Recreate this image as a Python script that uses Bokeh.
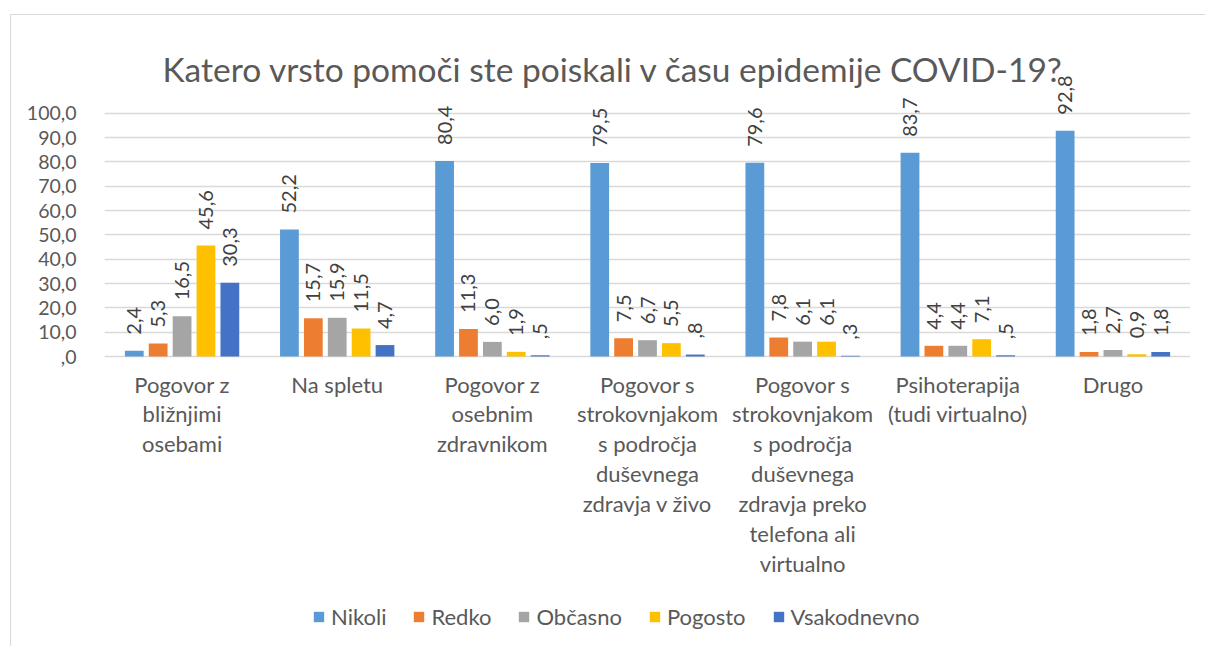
import numpy as np
from bokeh.plotting import figure
from bokeh.models import ColumnDataSource, Range1d, FixedTicker, Legend, LegendItem, Label
from bokeh.transform import dodge
from bokeh.core.properties import value
from bokeh.embed import file_html
from bokeh.resources import INLINE

# ---------------- data ----------------
title_text = "Katero vrsto pomoči ste poiskali v času epidemije COVID-19?"

categories = [
    "Pogovor z bližnjimi osebami",
    "Na spletu",
    "Pogovor z osebnim zdravnikom",
    "Pogovor s strokovnjakom s področja duševnega zdravja v živo",
    "Pogovor s strokovnjakom s področja duševnega zdravja preko telefona ali virtualno",
    "Psihoterapija (tudi virtualno)",
    "Drugo",
]
category_labels = [
    "Pogovor z\nbližnjimi\nosebami",
    "Na spletu",
    "Pogovor z\nosebnim\nzdravnikom",
    "Pogovor s\nstrokovnjakom\ns področja\nduševnega\nzdravja v živo",
    "Pogovor s\nstrokovnjakom\ns področja\nduševnega\nzdravja preko\ntelefona ali\nvirtualno",
    "Psihoterapija\n(tudi virtualno)",
    "Drugo",
]

series_names = ["Nikoli", "Redko", "Občasno", "Pogosto", "Vsakodnevno"]
nikoli = [2.4, 52.2, 80.4, 79.5, 79.6, 83.7, 92.8]
redko = [5.3, 15.7, 11.3, 7.5, 7.8, 4.4, 1.8]
obcasno = [16.5, 15.9, 6.0, 6.7, 6.1, 4.4, 2.7]
pogosto = [45.6, 11.5, 1.9, 5.5, 6.1, 7.1, 0.9]
vsakodnevno = [30.3, 4.7, 0.5, 0.8, 0.3, 0.5, 1.8]
series_values = [nikoli, redko, obcasno, pogosto, vsakodnevno]
series_colors = ["#5B9BD5", "#ED7D31", "#A5A5A5", "#FFC000", "#4472C4"]
drop_leading_zero = [False, False, False, False, True]

y_ticks = list(range(0, 101, 10))


def fmt(v, drop_zero=True):
    s = f"{v:.1f}".replace(".", ",")
    if drop_zero and s.startswith("0,"):
        s = s[1:]
    return s


# ---------------- styling ----------------
FONT = "Lato"
TXT = "#595959"
GRID = "#D9D9D9"

W, H = 1195, 632
FRAME_L, FRAME_R, FRAME_T, FRAME_B = 93, 16, 25, 7
PX_PER_UNIT = 2.433          # vertical scale of the value axis
ZERO_FROM_TOP = 316          # pixels from frame top to the zero line
y_top = ZERO_FROM_TOP / PX_PER_UNIT
y_bottom = -(H - FRAME_T - FRAME_B - ZERO_FROM_TOP) / PX_PER_UNIT

x_centers = np.arange(len(categories)) + 0.5
data = dict(x=x_centers, cat_label=category_labels)
keys = []
for i, vals in enumerate(series_values):
    k = f"s{i}"
    keys.append(k)
    data[k] = vals
    data[k + "_lab"] = [fmt(v, drop_leading_zero[i]) for v in vals]
src = ColumnDataSource(data)

p = figure(
    width=W, height=H,
    output_backend="svg", toolbar_location=None,
    x_range=Range1d(0, len(categories)),
    y_range=Range1d(y_bottom, y_top),
    min_border_left=FRAME_L, min_border_right=FRAME_R,
    min_border_top=FRAME_T, min_border_bottom=FRAME_B,
    margin=(14, 0, 0, 10),
)
p.styles = {"border-top": "1px solid #D9D9D9", "border-left": "1px solid #D9D9D9"}
p.outline_line_color = None
p.background_fill_color = "white"
p.border_fill_color = "white"

# value axis
p.yaxis.ticker = FixedTicker(ticks=y_ticks)
p.yaxis.major_label_overrides = {t: fmt(float(t)) for t in y_ticks}
p.yaxis.axis_line_color = None
p.yaxis.major_tick_line_color = None
p.yaxis.minor_tick_line_color = None
p.yaxis.major_label_standoff = 22
p.yaxis.major_label_text_font = FONT
p.yaxis.major_label_text_font_size = "19.5px"
p.yaxis.major_label_text_color = TXT

p.xaxis.visible = False
p.xgrid.grid_line_color = None
p.ygrid.ticker = FixedTicker(ticks=y_ticks)
p.ygrid.grid_line_color = GRID
p.ygrid.grid_line_width = 1.5

# category labels under the zero line
p.text(x="x", y=0, text="cat_label", source=src, text_align="center",
       text_baseline="top", y_offset=14, text_font=value(FONT),
       text_font_size="22px", text_color=TXT, text_line_height=1.11)

# bars + value labels
step = 0.154
bar_w = 0.121
items = []
for i, k in enumerate(keys):
    off = (i - 2) * step
    r = p.vbar(x=dodge("x", off), top=k, width=bar_w, source=src,
               fill_color=series_colors[i], line_color=None)
    p.text(x=dodge("x", off), y=k, text=k + "_lab", source=src,
           angle=np.pi / 2, text_align="left", text_baseline="middle",
           y_offset=-16, x_offset=0,
           text_font=value(FONT), text_font_size="20px", text_color="#404040")
    items.append(LegendItem(label=series_names[i], renderers=[r]))

# title
p.add_layout(Label(x=3.28, y=118.2, text=title_text, text_align="center",
                   text_baseline="alphabetic", text_font=FONT,
                   text_font_size="33.5px", text_color=TXT))

legend = Legend(items=items, orientation="horizontal", location=(208, 10),
                glyph_width=13, glyph_height=13, label_standoff=6, spacing=26,
                padding=0, margin=0, border_line_color=None,
                background_fill_alpha=0,
                label_text_font=FONT, label_text_font_size="22px",
                label_text_color=TXT)
p.add_layout(legend)

open("out.html", "w").write(file_html(p, INLINE))
